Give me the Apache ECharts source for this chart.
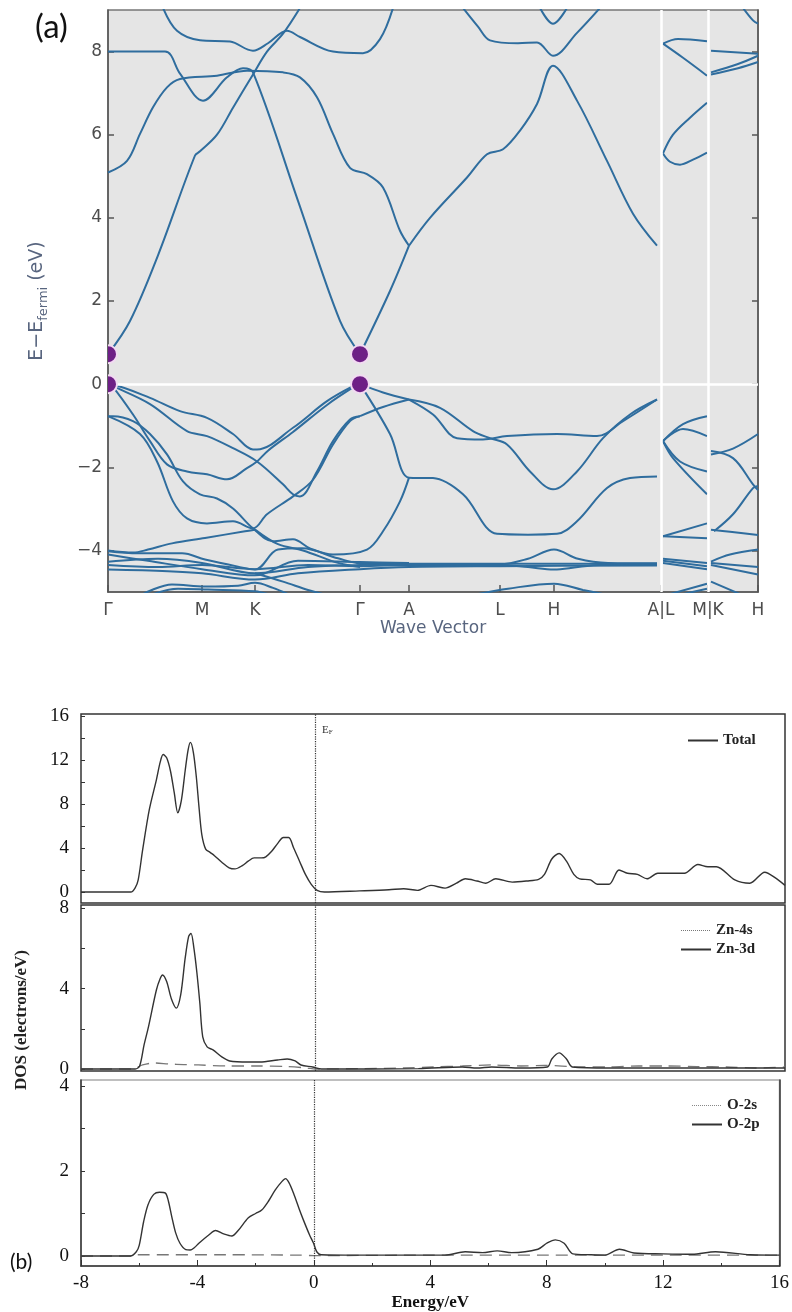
<!DOCTYPE html>
<html><head><meta charset="utf-8">
<script src="https://cdn.jsdelivr.net/npm/echarts@6/dist/echarts.min.js"></script>
<style>html,body{margin:0;padding:0;background:#fff}#c{width:792px;height:1312px}</style>
</head><body><div id="c"></div>
<script>
// ---------- (a) band structure ----------
const kTicks = [0, 94, 147, 252, 301, 392, 446, 553, 600, 650];
const kLabels = ['Γ', 'M', 'K', 'Γ', 'A', 'L', 'H', 'A|L', 'M|K', 'H'];
const bandYTicks = [-4, -2, 0, 2, 4, 6, 8];
const breakK = [553, 600];
const extremaK = [0, 0, 252, 252];
const extremaE = [0.72, 0, 0.72, 0];

const conductionBands = [
  [[0,0.72],[22,1.52],[50,3.1],[87,5.5],[92,5.6],[109,6.0],[125,6.65],[145,7.45],[159,8.0],[175,8.43],[192,9.05]],
  [[0,5.09],[19,5.37],[32,6.02],[45,6.66],[59,7.14],[72,7.34],[109,7.42],[139,7.54],[175,7.5],[192,7.38],[209,6.9],[225,6.02],[242,5.2],[259,5.05],[275,4.73],[292,3.69],[301,3.33]],
  [[0,8.0],[57,8.0],[72,7.47],[95,6.82],[119,7.38],[135,7.6],[145,7.5],[190,4.41],[232,1.52],[252,0.72]],
  [[55,9.05],[69,8.5],[92,8.27],[122,8.24],[145,8.02],[160,8.2],[179,8.5],[192,8.35],[225,8.0],[255,7.96],[272,8.3],[285,9.05]],
  [[301,3.33],[322,4.0],[359,4.97],[379,5.53],[395,5.65],[412,6.1],[429,6.74],[445,7.66],[469,6.82],[499,5.37],[525,4.1],[549,3.33]],
  [[252,0.72],[282,2.24],[301,3.33]],
  [[355,9.05],[370,8.6],[382,8.27],[410,8.2],[429,8.22],[445,7.9],[469,8.45],[492,9.05]],
  [[432,9.05],[445,8.67],[459,9.05]]
];
const conductionBranchBands = [
  [[555,8.19],[570,8.3],[599,8.25]],
  [[555,8.19],[575,7.85],[599,7.42]],
  [[555,5.55],[565,6.0],[582,6.41],[599,6.77]],
  [[555,5.55],[562,5.35],[572,5.28],[585,5.4],[599,5.57]],
  [[603,8.02],[650,7.95]],
  [[603,7.5],[630,7.7],[650,7.9]],
  [[603,7.45],[630,7.6],[650,7.75]],
  [[635,9.05],[645,8.75],[650,8.67]]
];
const valenceBands = [
  [[0,0],[5,-0.01],[42,-0.33],[72,-0.65],[99,-0.81],[125,-1.2],[145,-1.57],[149,-1.57],[185,-1.05],[219,-0.41],[245,-0.05],[252,0]],
  [[0,0],[5,-0.05],[42,-0.48],[79,-1.13],[99,-1.25],[125,-1.54],[149,-1.86],[175,-2.41],[185,-2.65],[192,-2.7],[209,-2.1],[225,-1.37],[242,-0.85],[252,-0.77]],
  [[0,0],[5,-0.07],[25,-0.73],[42,-1.37],[59,-1.93],[79,-2.1],[99,-2.17],[119,-2.29],[139,-2.02],[149,-1.86],[160,-1.6],[185,-1.15],[219,-0.5],[245,-0.08],[252,0]],
  [[0,-0.77],[5,-0.77],[25,-0.89],[42,-1.2],[59,-1.69],[75,-2.34],[92,-2.65],[109,-2.75],[125,-2.99],[145,-3.47],[165,-3.78],[185,-3.73],[202,-3.95],[225,-4.1],[259,-3.98],[275,-3.54],[292,-2.82],[301,-2.25]],
  [[0,-0.77],[32,-1.2],[49,-1.86],[65,-2.82],[79,-3.23],[99,-3.35],[125,-3.3],[145,-3.47],[159,-3.13],[185,-2.7],[205,-2.3],[225,-1.45],[242,-0.89],[252,-0.77]],
  [[252,0],[282,-1.2],[301,-2.25],[325,-2.26],[355,-2.65],[389,-3.6],[420,-3.62],[449,-3.6],[469,-3.3],[499,-2.5],[522,-2.26],[549,-2.22]],
  [[252,-0.77],[275,-0.55],[301,-0.37]],
  [[252,0],[275,-0.2],[301,-0.37]],
  [[301,-0.37],[332,-0.57],[365,-1.13],[382,-1.3],[399,-1.45],[422,-2.1],[445,-2.53],[469,-2.1],[495,-1.3],[522,-0.73],[549,-0.37]],
  [[301,-0.37],[325,-0.73],[349,-1.3],[375,-1.33],[399,-1.25],[449,-1.2],[489,-1.25],[515,-0.89],[549,-0.37]]
];
const dBands = [
  [[0,-4.0],[25,-4.05],[40,-3.98],[64,-3.83],[97,-3.7],[137,-3.54],[147,-3.5]],
  [[0,-4.02],[30,-4.07],[74,-4.07],[97,-4.22],[130,-4.39],[147,-4.46],[170,-3.98],[194,-3.95],[230,-4.19],[252,-4.31],[301,-4.32],[549,-4.32]],
  [[0,-4.27],[50,-4.2],[94,-4.3],[147,-4.55],[200,-4.4],[252,-4.35],[301,-4.33],[392,-4.33],[420,-4.2],[446,-3.98],[470,-4.2],[500,-4.3],[549,-4.31]],
  [[0,-4.35],[50,-4.4],[94,-4.35],[147,-4.45],[200,-4.35],[252,-4.38],[301,-4.35],[392,-4.35],[420,-4.4],[446,-4.46],[470,-4.4],[500,-4.34],[549,-4.34]],
  [[0,-4.46],[60,-4.5],[94,-4.55],[147,-4.7],[190,-4.55],[252,-4.45],[301,-4.4],[392,-4.38],[549,-4.36]],
  [[0,-4.1],[40,-4.25],[94,-4.45],[147,-4.6],[190,-4.25],[252,-4.28],[301,-4.3]],
  [[35,-5.05],[64,-4.82],[97,-4.87],[130,-4.85],[147,-4.78],[165,-4.9],[180,-5.05]],
  [[45,-5.05],[70,-4.92],[100,-4.94],[147,-4.98],[160,-5.05]],
  [[370,-5.05],[400,-4.92],[446,-4.8],[475,-4.95],[495,-5.05]],
  [[147,-3.5],[170,-3.85],[195,-4.0],[230,-4.3],[252,-4.4]],
  [[147,-4.55],[175,-4.75],[200,-4.95],[215,-5.05]]
];
const valenceBranchBands = [
  [[555,-1.37],[575,-0.96],[599,-0.77]],
  [[555,-1.37],[575,-1.08],[599,-1.25]],
  [[555,-1.37],[572,-1.86],[599,-2.1]],
  [[555,-1.37],[565,-1.78],[599,-2.65]],
  [[555,-3.66],[599,-3.35]],
  [[555,-3.66],[599,-3.71]],
  [[555,-4.2],[599,-4.3]],
  [[555,-4.25],[599,-4.38]],
  [[555,-4.3],[599,-4.45]],
  [[562,-5.05],[599,-4.8]],
  [[575,-5.05],[599,-4.92]],
  [[603,-1.69],[625,-1.55],[650,-1.2]],
  [[603,-1.61],[625,-1.78],[645,-2.41],[650,-2.55]],
  [[606,-3.54],[625,-3.13],[645,-2.5],[650,-2.45]],
  [[603,-3.5],[622,-3.55],[650,-3.63]],
  [[603,-4.27],[622,-4.1],[650,-3.98]],
  [[603,-4.3],[650,-4.4]],
  [[603,-4.35],[650,-4.58]],
  [[603,-4.75],[632,-5.05]]
];

// ---------- (b) density of states ----------
const totalDOS = [[-8,0],[-6.3,0],[-6.15,0.4],[-6.05,1.1],[-5.9,3.8],[-5.67,7.5],[-5.43,10.2],[-5.3,11.8],[-5.2,12.5],[-5.08,12.2],[-4.95,11.0],[-4.82,9.0],[-4.7,7.2],[-4.58,8.3],[-4.45,11.0],[-4.35,12.9],[-4.27,13.6],[-4.17,12.7],[-4.07,10.5],[-3.97,7.5],[-3.88,5.2],[-3.75,3.9],[-3.6,3.6],[-3.45,3.3],[-3.2,2.7],[-2.95,2.2],[-2.75,2.1],[-2.5,2.4],[-2.3,2.8],[-2.1,3.1],[-1.85,3.1],[-1.7,3.2],[-1.5,3.7],[-1.3,4.4],[-1.1,4.95],[-0.92,4.95],[-0.75,4.0],[-0.55,2.8],[-0.35,1.6],[-0.15,0.7],[0.05,0.15],[0.3,0],[1.5,0.1],[2.5,0.2],[3.0,0.3],[3.47,0.15],[3.93,0.6],[4.41,0.35],[4.8,0.8],[5.1,1.2],[5.5,1.0],[5.8,0.8],[6.14,1.2],[6.7,0.9],[7.2,1.0],[7.6,1.15],[7.8,1.6],[8.05,3.0],[8.3,3.5],[8.55,2.8],[8.8,1.6],[9.0,1.2],[9.37,1.1],[9.6,0.7],[10.0,0.7],[10.34,2.0],[10.63,1.7],[10.97,1.6],[11.3,1.2],[11.66,1.7],[12.57,1.7],[13.03,2.5],[13.37,2.3],[13.66,2.3],[14.29,1.1],[14.8,0.8],[15.31,1.8],[15.66,1.3],[16.0,0.6]];
const zn4sDOS = [[-8,0],[-6.25,0],[-5.9,0.2],[-5.5,0.3],[-5.0,0.25],[-4.5,0.22],[-4.0,0.2],[-3.0,0.15],[-2.0,0.15],[-1.0,0.12],[-0.3,0.05],[0,0],[1.5,0.02],[3,0.05],[4,0.1],[5,0.15],[6,0.2],[7,0.15],[7.8,0.18],[9,0.1],[10,0.1],[11,0.15],[12,0.15],[13,0.12],[14,0.1],[15,0.05],[16,0.1]];
const zn3dDOS = [[-8,0],[-6.15,0],[-6.0,0.15],[-5.85,1.2],[-5.7,2.1],[-5.43,3.93],[-5.3,4.5],[-5.22,4.68],[-5.08,4.35],[-4.92,3.5],[-4.75,3.03],[-4.6,3.7],[-4.45,5.5],[-4.33,6.6],[-4.25,6.75],[-4.15,6.0],[-4.05,4.8],[-3.95,3.3],[-3.85,1.6],[-3.7,1.1],[-3.5,0.95],[-3.2,0.6],[-2.93,0.4],[-2.3,0.35],[-1.9,0.35],[-1.3,0.45],[-0.97,0.5],[-0.7,0.4],[-0.5,0.2],[-0.1,0.1],[0.2,0],[3.5,0.02],[5.0,0.1],[5.5,0.05],[6.0,0.1],[7.0,0.05],[7.9,0.1],[8.05,0.5],[8.3,0.8],[8.55,0.5],[8.75,0.1],[10,0.05],[12,0.05],[14,0.05],[16,0.05]];
const o2sDOS = [[-8,0],[-6.3,0],[-6.1,0.03],[-3,0.03],[-0.5,0.02],[0,0.01],[4,0.02],[8,0.02],[12,0.02],[16,0.02]];
const o2pDOS = [[-8,0],[-6.3,0],[-6.1,0.1],[-6.0,0.25],[-5.85,0.8],[-5.7,1.2],[-5.5,1.45],[-5.3,1.5],[-5.1,1.48],[-5.0,1.3],[-4.88,0.92],[-4.75,0.55],[-4.6,0.3],[-4.4,0.15],[-4.25,0.14],[-4.1,0.2],[-3.95,0.3],[-3.6,0.5],[-3.38,0.6],[-3.1,0.52],[-2.82,0.47],[-2.6,0.6],[-2.25,0.9],[-2.0,1.0],[-1.79,1.08],[-1.55,1.3],[-1.33,1.55],[-1.1,1.75],[-0.97,1.82],[-0.85,1.72],[-0.7,1.48],[-0.5,1.1],[-0.36,0.85],[-0.15,0.5],[-0.01,0.3],[0.1,0.1],[0.25,0.03],[1.5,0.02],[3,0.02],[4.5,0.02],[5.2,0.1],[5.8,0.08],[6.3,0.12],[6.8,0.08],[7.7,0.16],[8.0,0.3],[8.3,0.38],[8.6,0.3],[8.9,0.05],[9.5,0.03],[10.0,0.02],[10.5,0.16],[11.0,0.07],[12,0.05],[13,0.04],[13.8,0.1],[15,0.03],[16,0.02]];
const energyTicks = [-8, -4, 0, 4, 8, 12, 16];
const dos1Labels = [0, 4, 8, 12, 16], dos1Ticks = [0, 2, 4, 6, 8, 10, 12, 14, 16];
const dos2Labels = [0, 4, 8], dos2Ticks = [0, 2, 4, 6, 8];
const dos3Labels = [0, 2, 4], dos3Ticks = [0, 1, 2, 3, 4];

// ---------- styles ----------
const BAND_COLOR = '#2f6d9e';
const AXIS_GRAY = '#555';
const NAME_COLOR = '#58657f';
const SERIF = 'Liberation Serif';
const SANS = 'DejaVu Sans';
const minus = v => (v < 0 ? '−' + Math.abs(v) : String(v));

const bandSeries = pts => ({
  type: 'line', xAxisIndex: 0, yAxisIndex: 0, data: pts, symbol: 'none', showSymbol: false,
  smooth: 0.35, clip: true, silent: true, animation: false, z: 3,
  lineStyle: { color: BAND_COLOR, width: 2 }
});
const dosSeries = (name, data, xi, yi, dashed, fermi) => {
  const s = {
    name, type: 'line', xAxisIndex: xi, yAxisIndex: yi, data, symbol: 'none', showSymbol: false,
    smooth: 0.3, clip: true, silent: true, animation: false,
    color: dashed ? '#777' : '#333',
    lineStyle: dashed ? { color: '#777', width: 1.3, type: [12, 7] } : { color: '#333', width: 1.4 }
  };
  if (fermi) {
    s.markLine = { silent: true, symbol: 'none', animation: false, label: { show: false },
      lineStyle: { color: '#333', width: 1.2, type: 'dotted' }, data: [{ xAxis: 0 }] };
  }
  return s;
};

const series = [];
series.push({
  type: 'line', xAxisIndex: 0, yAxisIndex: 0, data: [], z: 2, silent: true,
  markLine: { silent: true, symbol: 'none', animation: false, label: { show: false },
    lineStyle: { color: '#ffffff', width: 2.5, type: 'solid' },
    data: [{ yAxis: 0 }].concat(breakK.map(k => ({ xAxis: k }))) }
});
[conductionBands, conductionBranchBands, valenceBands, dBands, valenceBranchBands]
  .forEach(group => group.forEach(pts => series.push(bandSeries(pts))));
series.push({
  type: 'custom', xAxisIndex: 0, yAxisIndex: 0, z: 5, silent: true, clip: true, animation: false,
  data: extremaK.map((k, i) => [k, extremaE[i]]),
  renderItem: (params, api) => {
    const p = api.coord([api.value(0), api.value(1)]);
    return { type: 'circle', shape: { cx: p[0], cy: p[1], r: 9 },
      style: { fill: '#6e1f86', stroke: '#f2daf2', lineWidth: 2 } };
  }
});
series.push(dosSeries('Total', totalDOS, 1, 2, false, true));
series.push(dosSeries('Zn-4s', zn4sDOS, 2, 3, true, false));
series.push(dosSeries('Zn-3d', zn3dDOS, 2, 3, false, true));
series.push(dosSeries('O-2s', o2sDOS, 3, 4, true, false));
series.push(dosSeries('O-2p', o2pDOS, 3, 4, false, true));

const hiddenX = gi => ({
  type: 'value', gridIndex: gi, min: -8, max: 16, interval: 4,
  axisLine: { show: false, onZero: false }, axisTick: { show: false },
  axisLabel: { show: false }, splitLine: { show: false }
});
const dosY = (gi, min, max, labels, ticks, showLine) => ({
  type: 'value', gridIndex: gi, min, max,
  axisLine: { show: showLine, onZero: false, lineStyle: { color: '#333', width: 1.5 } },
  axisTick: { show: true, inside: true, length: 4, customValues: ticks, lineStyle: { color: '#333' } },
  axisLabel: { customValues: labels, fontFamily: SERIF, fontSize: 19, color: '#111', margin: 12 },
  splitLine: { show: false }
});
const legendBase = {
  orient: 'vertical', itemWidth: 30, itemHeight: 14, itemGap: 4, selectedMode: false,
  itemStyle: { opacity: 0 },
  textStyle: { fontFamily: SERIF, fontWeight: 'bold', fontSize: 15, color: '#222' }
};

const option = {
  backgroundColor: '#ffffff',
  animation: false,
  grid: [
    { left: 108, top: 10, width: 650, height: 582, show: true, backgroundColor: '#e5e5e5', borderColor: '#777', borderWidth: 1.5 },
    { left: 81, top: 714, width: 704, height: 189, show: true, borderColor: '#333', borderWidth: 1.5 },
    { left: 81, top: 905, width: 704, height: 166, show: true, borderColor: '#333', borderWidth: 1.5 },
    { left: 81, top: 1080, width: 704, height: 186, show: true, borderColor: '#aaa', borderWidth: 1.5 }
  ],
  xAxis: [
    { type: 'value', gridIndex: 0, min: 0, max: 650,
      axisLine: { show: true, onZero: false, lineStyle: { color: AXIS_GRAY, width: 1.5 } },
      axisTick: { show: true, inside: true, length: 7, customValues: kTicks, lineStyle: { color: AXIS_GRAY, width: 1.5 } },
      axisLabel: { customValues: kTicks, formatter: v => kLabels[kTicks.indexOf(v)], fontFamily: SANS, fontSize: 17, color: '#4d4d4d', margin: 10 },
      splitLine: { show: false },
      name: 'Wave Vector', nameLocation: 'middle', nameGap: 27,
      nameTextStyle: { fontFamily: SANS, fontSize: 17, color: NAME_COLOR } },
    hiddenX(1),
    hiddenX(2),
    { type: 'value', gridIndex: 3, min: -8, max: 16, interval: 4,
      axisLine: { show: true, onZero: false, lineStyle: { color: '#333', width: 1.5 } },
      axisTick: { show: true, inside: true, length: 6, lineStyle: { color: '#333' } },
      minorTick: { show: true, splitNumber: 2, length: 3, lineStyle: { color: '#333' } },
      axisLabel: { fontFamily: SERIF, fontSize: 19, color: '#111', margin: 8, customValues: energyTicks },
      splitLine: { show: false },
      name: 'Energy/eV', nameLocation: 'middle', nameGap: 27,
      nameTextStyle: { fontFamily: SERIF, fontWeight: 'bold', fontSize: 17, color: '#111' } }
  ],
  yAxis: [
    { type: 'value', gridIndex: 0, min: -5, max: 9,
      axisLine: { show: true, onZero: false, lineStyle: { color: AXIS_GRAY, width: 1.5 } },
      axisTick: { show: true, inside: true, length: 6, customValues: bandYTicks, lineStyle: { color: AXIS_GRAY, width: 1.5 } },
      axisLabel: { customValues: bandYTicks, formatter: minus, fontFamily: SANS, fontSize: 17, color: '#4d4d4d', margin: 6 },
      splitLine: { show: false },
      name: '{m|E−E}{s|fermi}{m| (eV)}', nameLocation: 'middle', nameGap: 58,
      nameTextStyle: { rich: {
        m: { fontFamily: SANS, fontSize: 19, color: NAME_COLOR, lineHeight: 26, verticalAlign: 'middle' },
        s: { fontFamily: SANS, fontSize: 13, color: NAME_COLOR, lineHeight: 26, verticalAlign: 'bottom', padding: [9, 0, 0, 0] } } } },
    { type: 'value', gridIndex: 0, min: -5, max: 9, position: 'right',
      axisLine: { show: true, onZero: false, lineStyle: { color: AXIS_GRAY, width: 1.5 } },
      axisTick: { show: true, inside: true, length: 6, customValues: bandYTicks, lineStyle: { color: AXIS_GRAY, width: 1.5 } },
      axisLabel: { show: false }, splitLine: { show: false } },
    dosY(1, -1, 16.18, dos1Labels, dos1Ticks, false),
    dosY(2, -0.1, 8.16, dos2Labels, dos2Ticks, false),
    dosY(3, -0.235, 4.14, dos3Labels, dos3Ticks, true),
    { type: 'value', gridIndex: 3, min: -0.235, max: 4.14, position: 'right',
      axisLine: { show: true, onZero: false, lineStyle: { color: '#333', width: 1.5 } },
      axisTick: { show: false }, axisLabel: { show: false }, splitLine: { show: false } }
  ],
  legend: [
    Object.assign({}, legendBase, { data: ['Total'], left: 682, top: 728 }),
    Object.assign({}, legendBase, { data: [{ name: 'Zn-4s', lineStyle: { type: 'dotted', color: '#777', width: 1 } }, 'Zn-3d'], left: 675, top: 918 }),
    Object.assign({}, legendBase, { data: [{ name: 'O-2s', lineStyle: { type: 'dotted', color: '#888', width: 1 } }, 'O-2p'], left: 686, top: 1093 })
  ],
  graphic: [
    { type: 'text', left: 35, top: 11, style: { text: '(a)', font: '33px Lato', fill: '#111' } },
    { type: 'text', left: 10, top: 1252, style: { text: '(b)', font: '21px Lato', fill: '#111' } },
    { type: 'text', x: 322, y: 724, style: { text: '{e|E}{f|F}', rich: { e: { fontFamily: SERIF, fontSize: 11, fill: '#333' }, f: { fontFamily: SERIF, fontSize: 7, fill: '#333', padding: [5, 0, 0, 0] } } } },
    { type: 'text', x: 22, y: 1020, rotation: Math.PI / 2, style: { text: 'DOS (electrons/eV)', font: 'bold 17px "Liberation Serif"', fill: '#222', align: 'center', verticalAlign: 'middle' } }
  ],
  series
};

const chart = echarts.init(document.getElementById('c'), null, { renderer: 'canvas' });
chart.setOption(option);
</script></body></html>
